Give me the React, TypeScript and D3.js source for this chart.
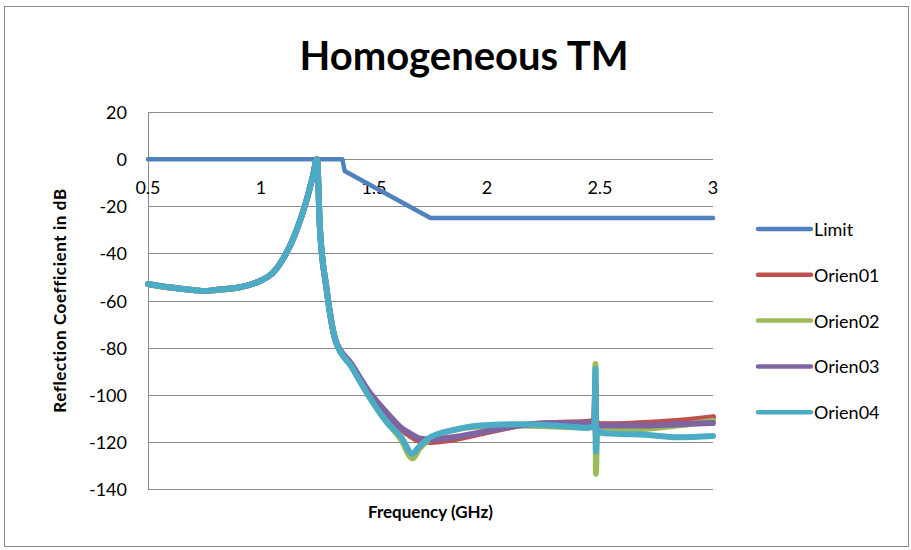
import * as d3 from "d3";

// Frequency grid shared by the four measured traces (GHz)
const freqs = [
  0.5, 0.6, 0.7, 0.75, 0.8, 0.9, 1.0, 1.05, 1.1, 1.15, 1.2, 1.23, 1.248, 1.26,
  1.29, 1.33, 1.4, 1.48, 1.56, 1.62, 1.67, 1.7, 1.75, 1.85, 1.97, 2.15, 2.3,
  2.45, 2.475, 2.48, 2.482, 2.487, 2.5, 2.55, 2.7, 2.85, 3.0,
];

const orien01 = [
  -53, -54.5, -55.5, -56, -55.5, -54.5, -51.5, -48.5, -42, -32, -18, -7, 0, -28,
  -55, -77, -87, -99.5, -108.5, -114.5, -118, -119.5, -120, -119, -116.5, -113,
  -112, -111.5, -110.5, -96, -117, -112, -112.5, -112.5, -112, -111, -109.5,
];
const orien02 = [
  -53, -54.5, -55.5, -56, -55.5, -54.5, -51.5, -48.5, -42, -32, -18, -7, 0, -28,
  -55, -77, -88, -101, -112, -119, -127, -123, -118.5, -115, -113.5, -113,
  -113.5, -114, -112.5, -87, -133.5, -115, -115, -115, -114.5, -113, -111,
];
const orien03 = [
  -53, -54.5, -55.5, -56, -55.5, -54.5, -51.5, -48.5, -42, -32, -18, -7, 0, -28,
  -55, -77, -87, -99, -108, -114, -117, -118.5, -119, -118, -116, -113, -112,
  -112, -111, -95, -118, -113, -113, -113, -113, -112.5, -112,
];
const orien04 = [
  -53, -54.5, -55.5, -56, -55.5, -54.5, -51.5, -48.5, -42, -32, -18, -7, 0, -28,
  -55, -77, -88, -101, -112, -118, -125, -122, -118, -115, -113, -112.5, -113,
  -114, -113, -89, -124, -114.5, -116, -116.5, -117, -118, -117.5,
];

// Limit mask
const limitFreqs = [0.5, 1.36, 1.37, 1.75, 3.0];
const limitValues = [0, 0, -5, -25, -25];

const seriesNames = ["Limit", "Orien01", "Orien02", "Orien03", "Orien04"];
const seriesColors = ["#4f81bd", "#c0504d", "#9bbb59", "#8064a2", "#4bacc6"];

const xTicks = [0.5, 1, 1.5, 2, 2.5, 3];
const yTicks = [20, 0, -20, -40, -60, -80, -100, -120, -140];

const font = "Lato, 'Noto Sans', sans-serif";

export default function App() {
  const width = 911;
  const height = 550;
  const plot = { left: 148, right: 713, top: 112, bottom: 489 };

  const x = d3.scaleLinear().domain([0.5, 3]).range([plot.left, plot.right]);
  const y = d3.scaleLinear().domain([-140, 20]).range([plot.bottom, plot.top]);

  const limitLine = d3
    .line<[number, number]>()
    .x((d) => x(d[0]))
    .y((d) => y(d[1]));

  const traceLine = d3
    .line<[number, number]>()
    .x((d) => x(d[0]))
    .y((d) => y(d[1]))
    .curve(d3.curveMonotoneX);

  const traces: [number, number][][] = [
    limitFreqs.map((f, i) => [f, limitValues[i]]),
    ...[orien01, orien02, orien03, orien04].map((vals) =>
      freqs.map((f, i) => [f, vals[i]] as [number, number])
    ),
  ];

  return (
    <div style={{ position: "absolute", left: 0, top: 0 }}>
      <svg width={width} height={height} style={{ display: "block" }}>
        <rect width={width} height={height} fill="#fff" />
        <rect x={4.5} y={6.5} width={904} height={540} fill="none" stroke="#8c8c8c" />

        <text
          x={464}
          y={70}
          textAnchor="middle"
          fontFamily={font}
          fontWeight="700"
          fontSize={40}
          fill="#000"
        >
          Homogeneous TM
        </text>

        {/* Gridlines */}
        {yTicks.map((t) => (
          <line
            key={`g${t}`}
            x1={plot.left}
            x2={plot.right}
            y1={Math.round(y(t)) + 0.5}
            y2={Math.round(y(t)) + 0.5}
            stroke="#8a8a8a"
            strokeWidth={1}
          />
        ))}
        <line
          x1={plot.left + 0.5}
          x2={plot.left + 0.5}
          y1={plot.top}
          y2={plot.bottom}
          stroke="#8a8a8a"
        />

        {/* Y tick labels */}
        {yTicks.map((t) => (
          <text
            key={`yl${t}`}
            x={127}
            y={y(t)}
            textAnchor="end"
            dominantBaseline="central"
            fontFamily={font}
            fontSize={18}
            fill="#000"
          >
            {t}
          </text>
        ))}

        {/* X tick labels sit just under the 0 dB line */}
        {xTicks.map((t) => (
          <text
            key={`xl${t}`}
            x={x(t)}
            y={y(0) + 35}
            textAnchor="middle"
            fontFamily={font}
            fontSize={18}
            fill="#000"
          >
            {t}
          </text>
        ))}

        {/* Traces */}
        <g fill="none" strokeLinejoin="round" strokeLinecap="round">
          {traces.map((tr, i) => (
            <path
              key={seriesNames[i]}
              d={(i === 0 ? limitLine(tr) : traceLine(tr)) || ""}
              stroke={seriesColors[i]}
              strokeWidth={i === 0 ? 4.5 : 6}
            />
          ))}
        </g>

        {/* Axis titles */}
        <text
          x={(plot.left + plot.right) / 2}
          y={518}
          textAnchor="middle"
          fontFamily={font}
          fontWeight="700"
          fontSize={17}
          fill="#000"
        >
          Frequency (GHz)
        </text>
        <text
          transform={`translate(66,${(plot.top + plot.bottom) / 2}) rotate(-90)`}
          textAnchor="middle"
          fontFamily={font}
          fontWeight="700"
          fontSize={17}
          letterSpacing={0.6}
          fill="#000"
        >
          Reflection Coefficient in dB
        </text>

        {/* Legend */}
        {seriesNames.map((name, i) => {
          const ly = 229 + i * 45.8;
          return (
            <g key={`lg${name}`}>
              <line
                x1={758}
                x2={811}
                y1={ly}
                y2={ly}
                stroke={seriesColors[i]}
                strokeWidth={4.5}
                strokeLinecap="round"
              />
              <text
                x={814}
                y={ly}
                dominantBaseline="central"
                fontFamily={font}
                fontSize={18}
                fill="#000"
              >
                {name}
              </text>
            </g>
          );
        })}
      </svg>
    </div>
  );
}
